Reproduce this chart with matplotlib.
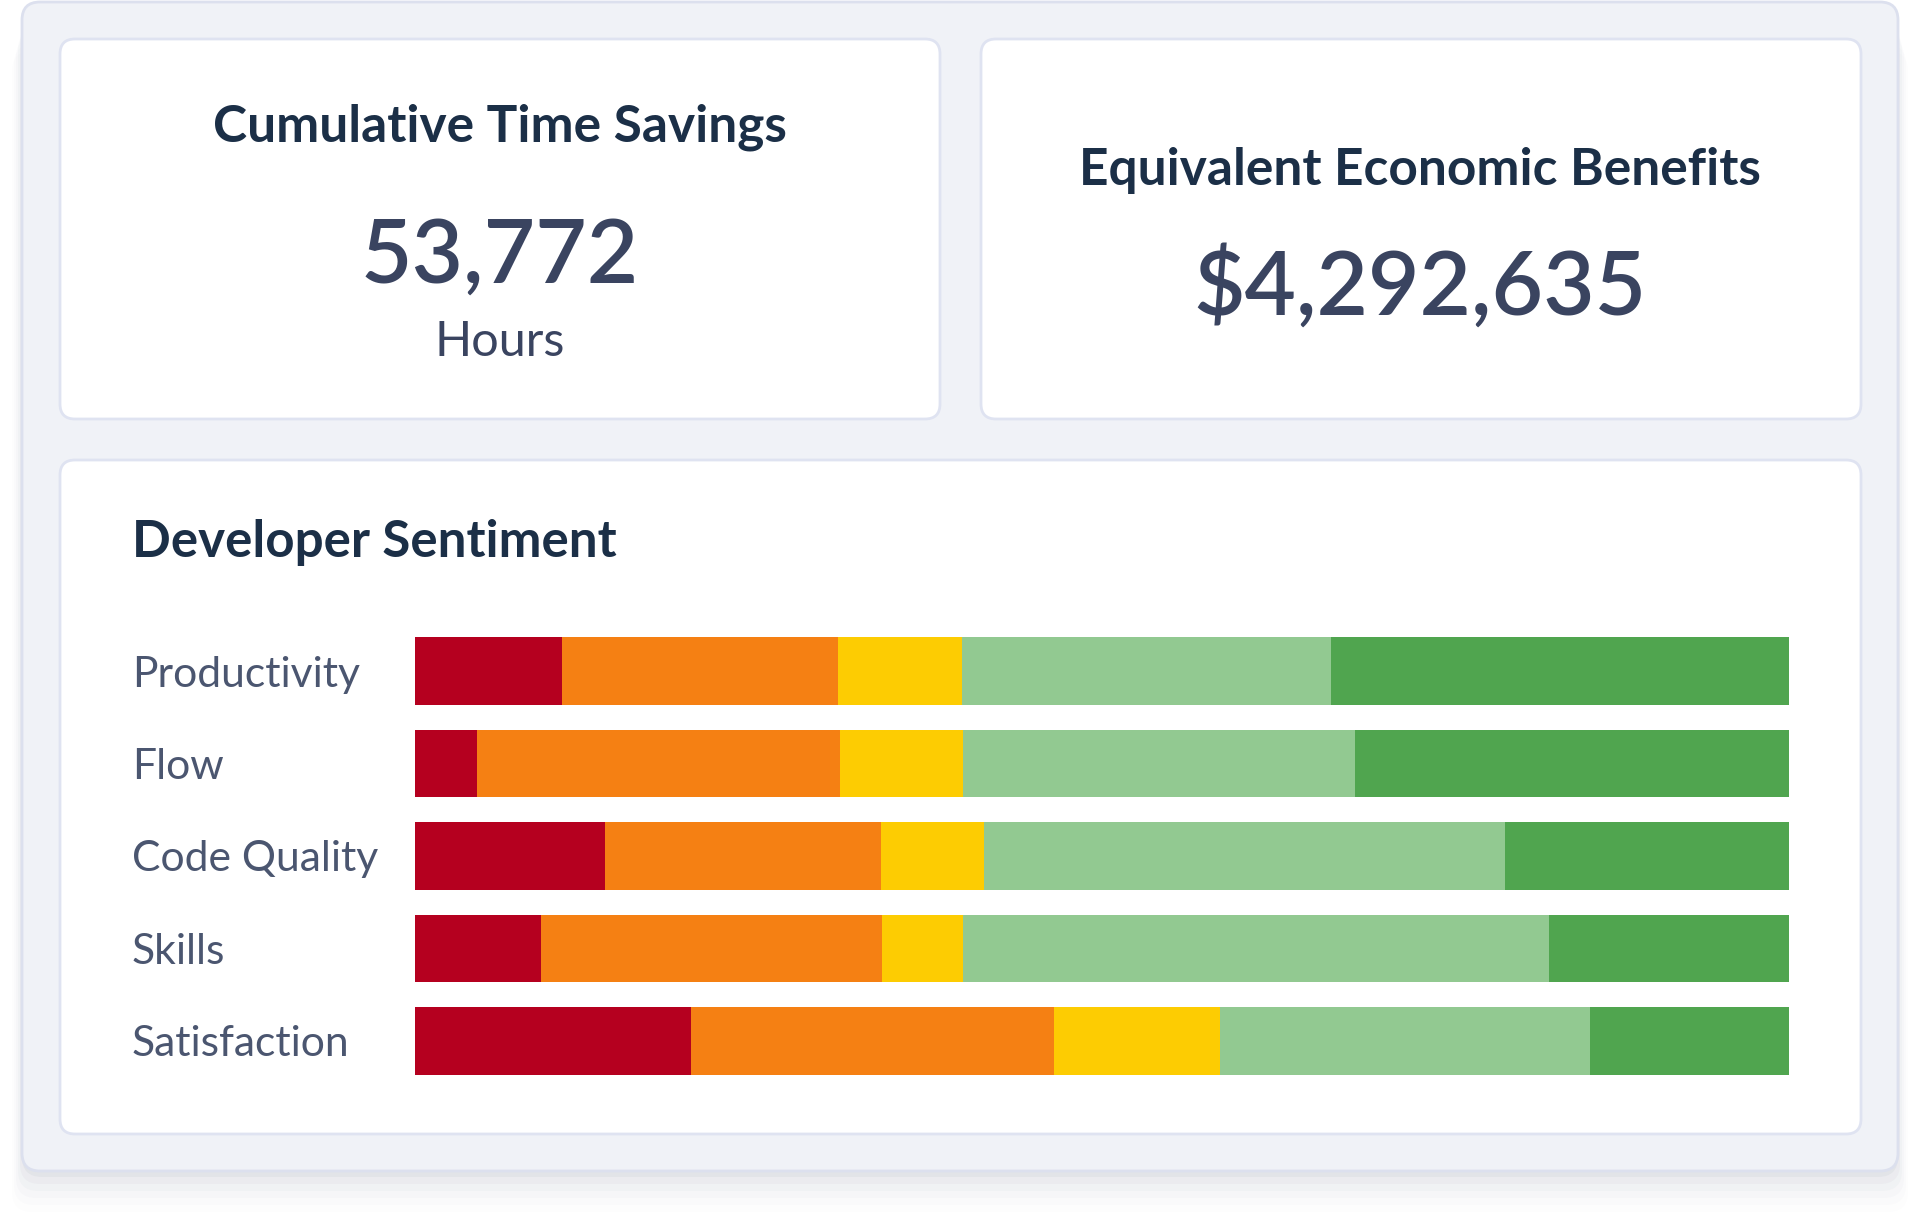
import matplotlib
matplotlib.use("Agg")
import matplotlib.pyplot as plt
from matplotlib.patches import FancyBboxPatch
import numpy as np

plt.rcParams['font.family'] = ['Lato', 'DejaVu Sans']

# data (percent of respondents)
categories = ['Productivity', 'Flow', 'Code Quality', 'Skills', 'Satisfaction']
very_negative = [10.7, 4.5, 13.8, 9.2, 20.1]
negative = [20.1, 26.4, 20.1, 24.8, 26.4]
neutral = [9.0, 9.0, 7.5, 5.9, 12.1]
positive = [26.9, 28.5, 37.9, 42.6, 26.9]
very_positive = [33.3, 31.6, 20.7, 17.5, 14.5]
seg_colors = ['#B5001F', '#F58013', '#FDCC02', '#92C991', '#50A54F']

time_savings = '53,772'
time_unit = 'Hours'
economic_benefit = '$4,292,635'

W, H = 1920, 1216
fig = plt.figure(figsize=(W / 100, H / 100), dpi=100)
fig.patch.set_facecolor('white')

# background layer in pixel coordinates
bg = fig.add_axes([0, 0, 1, 1])
bg.set_xlim(0, W)
bg.set_ylim(H, 0)
bg.axis('off')


def card(x0, y0, x1, y1, r, fc, ec, lw=1.5, alpha=1.0, z=1):
    p = FancyBboxPatch((x0 + r, y0 + r), (x1 - x0) - 2 * r, (y1 - y0) - 2 * r,
                       boxstyle='round,pad=%f' % r, fc=fc, ec=ec, lw=lw,
                       alpha=alpha, zorder=z)
    bg.add_patch(p)


# soft shadow under the outer panel
for i, a in enumerate([0.05, 0.04, 0.03, 0.02, 0.015, 0.01]):
    d = 6 + i * 7
    card(22 - i * 2, 10 + d, 1898 + i * 2, 1171 + d, 20, '#5a6480', 'none', lw=0, alpha=a, z=0)

card(22, 2, 1898, 1171, 18, '#F0F2F7', '#DCE0EE', lw=2, z=1)
card(60, 39, 940, 419, 15, 'white', '#DFE3F1', lw=2, z=2)
card(981, 39, 1861, 419, 15, 'white', '#DFE3F1', lw=2, z=2)
card(60, 460, 1861, 1134, 15, 'white', '#DFE3F1', lw=2, z=2)

title_c = '#1B2F47'
num_c = '#3A4460'
label_c = '#4B5670'

bg.text(500, 127, 'Cumulative Time Savings', ha='center', va='center',
        fontsize=37, fontweight='bold', color=title_c, zorder=5)
bg.text(500, 257, time_savings, ha='center', va='center',
        fontsize=64, fontweight='semibold', color=num_c, zorder=5)
bg.text(500, 342, time_unit, ha='center', va='center',
        fontsize=35, color=num_c, zorder=5)

bg.text(1420, 170, 'Equivalent Economic Benefits', ha='center', va='center',
        fontsize=37, fontweight='bold', color=title_c, zorder=5)
bg.text(1420, 287, economic_benefit, ha='center', va='center',
        fontsize=64, fontweight='semibold', color=num_c, zorder=5)

bg.text(132, 542, 'Developer Sentiment', ha='left', va='center',
        fontsize=36.8, fontweight='bold', color=title_c, zorder=5)

# stacked bars
bx0, bx1 = 415, 1789
by_top, by_bot = 624.75, 1087.25
ax = fig.add_axes([bx0 / W, 1 - by_bot / H, (bx1 - bx0) / W, (by_bot - by_top) / H])
ax.set_facecolor('none')
ax.set_zorder(3)

y = np.arange(len(categories))
series = [very_negative, negative, neutral, positive, very_positive]
left = np.zeros(len(categories))
for vals, col in zip(series, seg_colors):
    vals = np.array(vals)
    ax.barh(y, vals, left=left, height=0.735, color=col, edgecolor='none')
    left += vals

ax.set_xlim(0, 100)
ax.set_ylim(len(categories) - 0.5, -0.5)
ax.set_xticks([])
ax.set_yticks(y)
ax.set_yticklabels(categories, fontsize=30.7, color=label_c)
for lab in ax.get_yticklabels():
    lab.set_horizontalalignment('left')
ax.tick_params(axis='y', length=0, pad=(bx0 - 132) * 0.72)
for s in ax.spines.values():
    s.set_visible(False)

fig.savefig('out.png', dpi=100, facecolor='white')
